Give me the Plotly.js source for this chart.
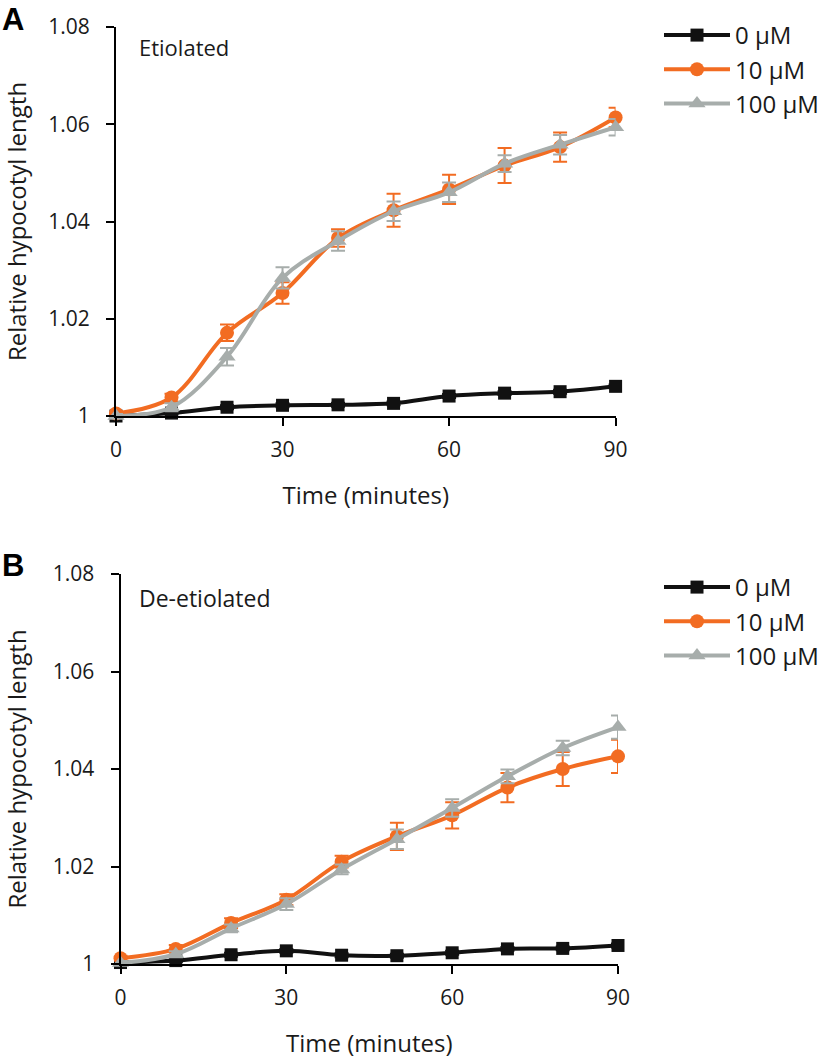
<!DOCTYPE html>
<html>
<head>
<meta charset="utf-8">
<script src="https://cdn.plot.ly/plotly-3.0.1.min.js"></script>
<style>html,body{margin:0;padding:0;background:#fff;}#chart{width:829px;height:1063px;}</style>
</head>
<body>
<div id="chart"></div>
<script>
// ---- Data ----
const times = [0, 10, 20, 30, 40, 50, 60, 70, 80, 90];
const seriesNames = ['0 μM', '10 μM', '100 μM'];
const yTickVals = [1, 1.02, 1.04, 1.06, 1.08];
const yTickText = ['1', '1.02', '1.04', '1.06', '1.08'];
const xTickVals = [0, 30, 60, 90];

// Panel A: Etiolated
const etiol0 = [1.0000, 1.0006, 1.0018, 1.0022, 1.0023, 1.0026, 1.0041, 1.0047, 1.0050, 1.0061];
const etiol0Err = [0.0003, 0.0003, 0.0004, 0.0004, 0.0004, 0.0004, 0.0004, 0.0004, 0.0004, 0.0004];
const etiol10 = [1.0005, 1.0038, 1.0171, 1.0253, 1.0366, 1.0423, 1.0466, 1.0515, 1.0553, 1.0614];
const etiol10Err = [0.0005, 0.0008, 0.0017, 0.0022, 0.0018, 0.0034, 0.0030, 0.0036, 0.0030, 0.0020];
const etiol100 = [1.0000, 1.0018, 1.0122, 1.0284, 1.0360, 1.0421, 1.0460, 1.0519, 1.0558, 1.0594];
const etiol100Err = [0.0004, 0.0008, 0.0018, 0.0022, 0.0020, 0.0020, 0.0020, 0.0017, 0.0020, 0.0017];

// Panel B: De-etiolated
const deetiol0 = [1.0003, 1.0007, 1.0019, 1.0027, 1.0018, 1.0017, 1.0023, 1.0031, 1.0032, 1.0038];
const deetiol0Err = [0.0003, 0.0003, 0.0004, 0.0004, 0.0004, 0.0004, 0.0004, 0.0004, 0.0004, 0.0004];
const deetiol10 = [1.0012, 1.0031, 1.0084, 1.0132, 1.0210, 1.0262, 1.0305, 1.0362, 1.0400, 1.0426];
const deetiol10Err = [0.0005, 0.0008, 0.0010, 0.0011, 0.0012, 0.0028, 0.0027, 0.0030, 0.0035, 0.0034];
const deetiol100 = [1.0002, 1.0020, 1.0073, 1.0123, 1.0194, 1.0256, 1.0320, 1.0385, 1.0443, 1.0486];
const deetiol100Err = [0.0004, 0.0006, 0.0008, 0.0012, 0.0010, 0.0020, 0.0018, 0.0014, 0.0015, 0.0024];

// ---- Styles ----
const colors = ['#111111', '#F26C22', '#A7ADAB'];
const symbols = ['square', 'circle', 'triangle-up'];
const msizes = [13, 14, 15];
const FONT = '"Open Sans", Lato, "DejaVu Sans", sans-serif';

function mk(y, err, i, xa, ya, legend) {
  return {
    x: times, y: y, name: seriesNames[i], type: 'scatter', mode: 'lines+markers',
    xaxis: xa, yaxis: ya, legend: legend, legendgroup: legend + i,
    line: {color: colors[i], width: 4, shape: 'spline', smoothing: 1},
    marker: {color: colors[i], symbol: symbols[i], size: msizes[i]},
    error_y: {type: 'data', array: err, visible: true, color: colors[i], thickness: 2, width: 7},
    cliponaxis: false
  };
}

const data = [
  mk(etiol0, etiol0Err, 0, 'x', 'y', 'legend'),
  mk(etiol10, etiol10Err, 1, 'x', 'y', 'legend'),
  mk(etiol100, etiol100Err, 2, 'x', 'y', 'legend'),
  mk(deetiol0, deetiol0Err, 0, 'x2', 'y2', 'legend2'),
  mk(deetiol10, deetiol10Err, 1, 'x2', 'y2', 'legend2'),
  mk(deetiol100, deetiol100Err, 2, 'x2', 'y2', 'legend2')
];

const W = 829, H = 1063;
function xax(d0, d1, anchor) {
  return {
    domain: [d0 / W, d1 / W], anchor: anchor, range: [0, 90],
    tickvals: xTickVals, ticks: 'outside', ticklen: 8, tickwidth: 2, tickcolor: '#000',
    showline: true, linecolor: '#000', linewidth: 2, showgrid: false, zeroline: false,
    tickfont: {family: FONT, size: 21, color: '#1a1a1a'}, ticklabelstandoff: 6,
    title: {text: 'Time (minutes)', font: {family: FONT, size: 24, color: '#1a1a1a'}, standoff: 25},
    fixedrange: true
  };
}
function yax(top, bottom, anchor) {
  return {
    domain: [1 - bottom / H, 1 - top / H], anchor: anchor, range: [1, 1.08],
    tickvals: yTickVals, ticktext: yTickText, ticks: 'outside', ticklen: 8, tickwidth: 2, tickcolor: '#000',
    showline: true, linecolor: '#000', linewidth: 2, showgrid: false, zeroline: false,
    tickfont: {family: FONT, size: 21, color: '#1a1a1a'}, ticklabelstandoff: 12,
    title: {text: 'Relative hypocotyl length', font: {family: FONT, size: 24, color: '#1a1a1a'}, standoff: 21},
    fixedrange: true
  };
}
function leg(yTop) {
  return {
    x: 659 / W, y: 1 - yTop / H, xanchor: 'left', yanchor: 'top',
    font: {family: FONT, size: 24, color: '#1a1a1a'}, bgcolor: 'rgba(0,0,0,0)',
    traceorder: 'grouped', tracegroupgap: 0, itemwidth: 66, itemsizing: 'trace'
  };
}

const layout = {
  width: W, height: H, paper_bgcolor: '#fff', plot_bgcolor: '#fff',
  margin: {l: 0, r: 0, t: 0, b: 0},
  font: {family: FONT, color: '#1a1a1a'},
  xaxis: xax(116, 615.6, 'y'),
  yaxis: yax(27, 416, 'x'),
  xaxis2: xax(120.5, 618, 'y2'),
  yaxis2: yax(574, 964, 'x2'),
  legend: leg(13),
  legend2: leg(565),
  annotations: [
    {text: '<b>A</b>', xref: 'paper', yref: 'paper', x: 0, y: 1, xanchor: 'left', yanchor: 'top', showarrow: false, font: {family: 'Liberation Sans, Arial, sans-serif', size: 31, color: '#000'}},
    {text: '<b>B</b>', xref: 'paper', yref: 'paper', x: 0, y: 1 - 550 / H, yshift: 4, xanchor: 'left', yanchor: 'top', showarrow: false, font: {family: 'Liberation Sans, Arial, sans-serif', size: 31, color: '#000'}},
    {text: 'Etiolated', xref: 'paper', yref: 'paper', x: 137 / W, y: 1 - 47 / H, xanchor: 'left', yanchor: 'middle', showarrow: false, font: {family: FONT, size: 22, color: '#1a1a1a'}},
    {text: 'De-etiolated', xref: 'paper', yref: 'paper', x: 137 / W, y: 1 - 598 / H, xanchor: 'left', yanchor: 'middle', showarrow: false, font: {family: FONT, size: 23, color: '#1a1a1a'}}
  ],
  showlegend: true
};

Plotly.newPlot('chart', data, layout, {displayModeBar: false, staticPlot: true});
</script>
</body>
</html>
